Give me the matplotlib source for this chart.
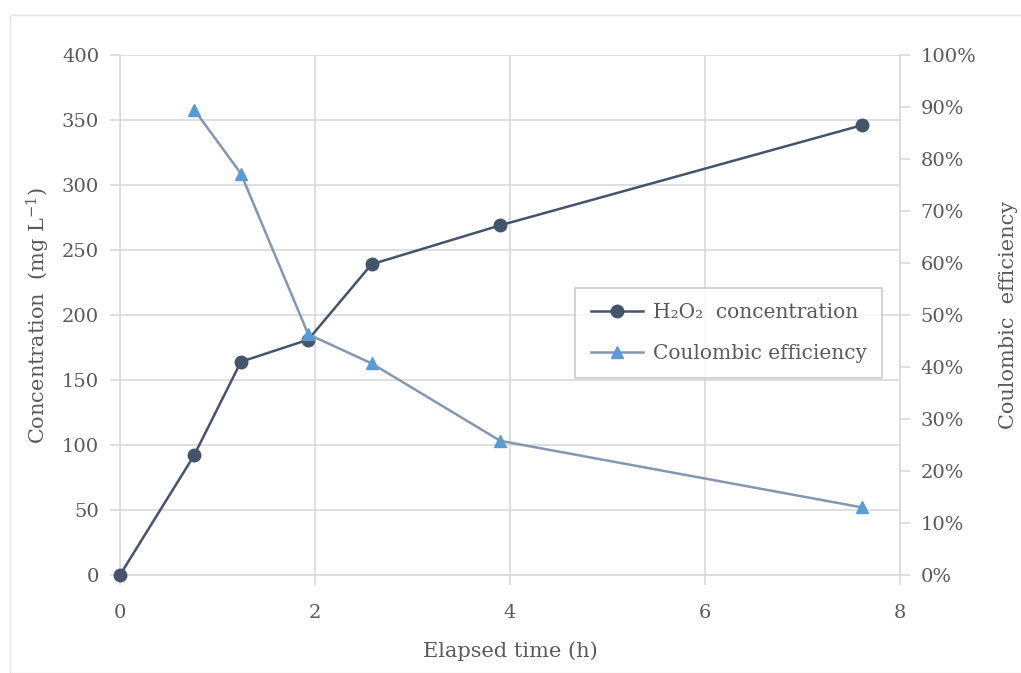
import matplotlib
matplotlib.use("Agg")
import matplotlib.pyplot as plt
from matplotlib.patches import Rectangle
from matplotlib.ticker import FuncFormatter

# Measured H2O2 build-up and Coulombic efficiency over time
time_h2o2 = [0.0, 0.76, 1.24, 1.93, 2.58, 3.90, 7.61]
h2o2_conc = [0, 92, 164, 181, 239, 269, 346]

time_ce = [0.76, 1.24, 1.93, 2.58, 3.90, 7.61]
coulombic_eff = [89.5, 77.2, 46.3, 40.7, 25.8, 13.0]

plt.rcParams['font.family'] = ['DejaVu Serif']
plt.rcParams['mathtext.fontset'] = 'dejavuserif'

text_col = '#595959'
grid_col = '#D9D9D9'

fig = plt.figure(figsize=(10.21, 6.73), dpi=100)
fig.patches.append(Rectangle((10 / 1021, 0), 1.0, 1 - 15 / 673,
                             transform=fig.transFigure, fill=False,
                             edgecolor='#E3E3E3', linewidth=1.0))

ax = fig.add_axes([120 / 1021, 98 / 673, 780 / 1021, 520 / 673])
ax2 = ax.twinx()

ax.plot(time_h2o2, h2o2_conc, color='#44546A', linewidth=1.8, marker='o',
        markersize=9, label='H₂O₂  concentration', zorder=3, clip_on=False)
ax2.plot(time_ce, coulombic_eff, color='#8497B0', linewidth=1.8, marker='^',
         markersize=8, markerfacecolor='#5B9BD5', markeredgecolor='#5B9BD5',
         label='Coulombic efficiency', zorder=3, clip_on=False)

ax.set_xlim(0, 8)
ax.set_ylim(0, 400)
ax2.set_ylim(0, 100)
ax.set_xticks(range(0, 9, 2))
ax.set_yticks(range(0, 401, 50))
ax2.set_yticks(range(0, 101, 10))
ax2.yaxis.set_major_formatter(FuncFormatter(lambda v, p: f'{int(v)}%'))

ax.grid(True, color=grid_col, linewidth=1.2)
ax.set_axisbelow(True)

for a in (ax, ax2):
    for s in a.spines.values():
        s.set_visible(False)
    a.tick_params(colors=grid_col, labelcolor=text_col, labelsize=14,
                  length=7, width=1.2)
ax.spines['left'].set_visible(True)
ax.spines['left'].set_color(grid_col)
ax.spines['bottom'].set_visible(True)
ax.spines['bottom'].set_color(grid_col)
ax2.spines['right'].set_visible(True)
ax2.spines['right'].set_color(grid_col)
for a in (ax, ax2):
    for s in a.spines.values():
        s.set_linewidth(1.2)
ax.tick_params(axis='y', pad=8)
ax.tick_params(axis='x', pad=14)
ax2.tick_params(axis='y', pad=8)

ax.set_xlabel('Elapsed time (h)', fontsize=15, color=text_col, labelpad=14)
ax.set_ylabel('Concentration  (mg L$^{-1}$)', fontsize=15, color=text_col,
              labelpad=7)
ax2.set_ylabel('Coulombic  efficiency', fontsize=15, color=text_col,
               labelpad=16)

h1, l1 = ax.get_legend_handles_labels()
h2, l2 = ax2.get_legend_handles_labels()
leg = ax2.legend(h1 + h2, l1 + l2, loc='center right',
                 bbox_to_anchor=(0.99, 0.465), fontsize=14.5, frameon=True,
                 fancybox=False, edgecolor='#BFBFBF', labelcolor=text_col,
                 handlelength=2.6, borderpad=0.75, labelspacing=1.1,
                 handletextpad=0.5)
leg.get_frame().set_linewidth(1.2)

fig.savefig('out.png', dpi=100)
